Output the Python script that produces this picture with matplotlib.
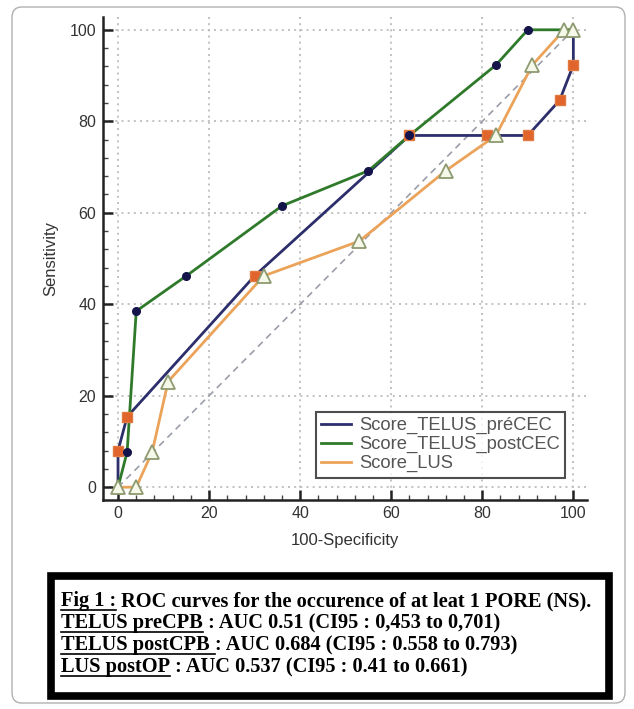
import matplotlib
matplotlib.use("Agg")
import matplotlib.pyplot as plt
from matplotlib.patches import FancyBboxPatch, Rectangle
from matplotlib.ticker import MultipleLocator
from matplotlib.lines import Line2D

# ---- data ----
pre_x = [0, 0, 2, 30, 64, 81, 90, 97, 100, 100]
pre_y = [0, 8, 15.4, 46.2, 76.9, 76.9, 76.9, 84.6, 92.3, 100]
post_x = [0, 2, 4, 15, 36, 55, 64, 83, 90, 100]
post_y = [0, 7.7, 38.5, 46.2, 61.5, 69.2, 76.9, 92.3, 100, 100]
lus_x = [0, 4, 7.5, 11, 32, 53, 72, 83, 91, 98, 100]
lus_y = [0, 0, 7.7, 23.1, 46.2, 53.8, 69.2, 76.9, 92.3, 100, 100]
labels = ["Score_TELUS_préCEC", "Score_TELUS_postCEC", "Score_LUS"]
xticks = [0, 20, 40, 60, 80, 100]
yticks = [0, 20, 40, 60, 80, 100]

caption = [
    ("Fig 1 :", " ROC curves for the occurence of at leat 1 PORE (NS)."),
    ("TELUS preCPB", " : AUC 0.51 (CI95 : 0,453 to 0,701)"),
    ("TELUS postCPB ", ": AUC 0.684 (CI95 : 0.558 to 0.793)"),
    ("LUS postOP", " : AUC 0.537 (CI95 : 0.41 to 0.661)"),
]

navy = "#2c2f6b"
green = "#2f7a2a"
orange = "#eba35a"
sans = "Liberation Sans"

fig = plt.figure(figsize=(6.34, 7.09), dpi=100)

# outer rounded border
fig.patches.append(FancyBboxPatch((12/634, 6/709), 613/634, 696/709,
                                  boxstyle="round,pad=0,rounding_size=0.015",
                                  transform=fig.transFigure, fill=False,
                                  edgecolor="#b0b0b0", linewidth=1.0))

ax = fig.add_axes([103/634, 1-500/709, (587-103)/634, (500-17)/709])
ax.set_xlim(-3.3, 103)
ax.set_ylim(-2.8, 102.8)
for s in ["top", "right"]:
    ax.spines[s].set_visible(False)
for s in ["left", "bottom"]:
    ax.spines[s].set_linewidth(1.8)
    ax.spines[s].set_color("#222222")

ax.set_xticks(xticks)
ax.set_yticks(yticks)
ax.xaxis.set_minor_locator(MultipleLocator(4))
ax.yaxis.set_minor_locator(MultipleLocator(4))
ax.tick_params(which="major", direction="in", length=7, width=1.8, colors="#222222",
               labelsize=11.5, labelcolor="#333333")
ax.tick_params(axis="x", which="major", pad=4)
ax.tick_params(axis="y", which="major", pad=5)
ax.tick_params(which="minor", direction="in", length=3.5, width=1.0, colors="#444444")
for lab in ax.get_xticklabels() + ax.get_yticklabels():
    lab.set_family(sans)
ax.grid(True, which="major", linestyle=(0, (1.2, 2.5)), color="#b8b8b8", linewidth=1.2)

ax.plot([0, 100], [0, 100], linestyle=(0, (4, 3)), color="#9a9ea8", linewidth=1.2, zorder=2)

ax.plot(lus_x, lus_y, color=orange, linewidth=2, zorder=3)
ax.plot(lus_x, lus_y, linestyle="none", marker="^", markersize=10.5,
        markerfacecolor="#f6f8ea", markeredgecolor="#8d9a70", markeredgewidth=1.3, zorder=6)
ax.plot(pre_x, pre_y, color=navy, linewidth=2, zorder=4)
ax.plot(pre_x[1:-1], pre_y[1:-1], linestyle="none", marker="s", markersize=7.5,
        markerfacecolor="#e0642c", markeredgecolor="#e07a40", zorder=5)
ax.plot(post_x, post_y, color=green, linewidth=2, zorder=4)
ax.plot(post_x[1:-1], post_y[1:-1], linestyle="none", marker="o", markersize=5.5,
        color="#14144a", zorder=5)

ax.set_xlabel("100-Specificity", fontsize=12, color="#333333", labelpad=9, family=sans)
ax.set_ylabel("Sensitivity", fontsize=12, color="#333333", labelpad=8, family=sans)

handles = [Line2D([], [], color=c, linewidth=2) for c in (navy, green, orange)]
leg = ax.legend(handles, labels, loc="lower right", bbox_to_anchor=(0.955, 0.046),
                borderaxespad=0, prop={"family": sans, "size": 13.2},
                frameon=True, fancybox=False, handlelength=1.6,
                handletextpad=0.45, borderpad=0.3, labelspacing=0.1,
                labelcolor="#555555")
leg.get_frame().set_edgecolor("#222222")
leg.get_frame().set_linewidth(1.5)

# caption box
fig.patches.append(Rectangle((51/634, 1-696/709), (609-51)/634, (696-576)/709,
                             transform=fig.transFigure, fill=False,
                             edgecolor="black", linewidth=5.5))

fig.canvas.draw()
renderer = fig.canvas.get_renderer()
ys = [606, 628, 650, 672]
fs = 14.7
for (u, rest), yp in zip(caption, ys):
    t1 = fig.text(61/634, 1-yp/709, u, fontsize=fs, fontweight="bold",
                  family="Liberation Serif", va="baseline", ha="left")
    bb = t1.get_window_extent(renderer)
    x1 = bb.x1 / fig.bbox.width
    fig.add_artist(Line2D([61/634, x1], [1-(yp+3.5)/709]*2, color="black",
                          linewidth=1.2, transform=fig.transFigure))
    fig.text(x1, 1-yp/709, rest, fontsize=fs, fontweight="bold",
             family="Liberation Serif", va="baseline", ha="left")

fig.savefig("out.png", dpi=100)
